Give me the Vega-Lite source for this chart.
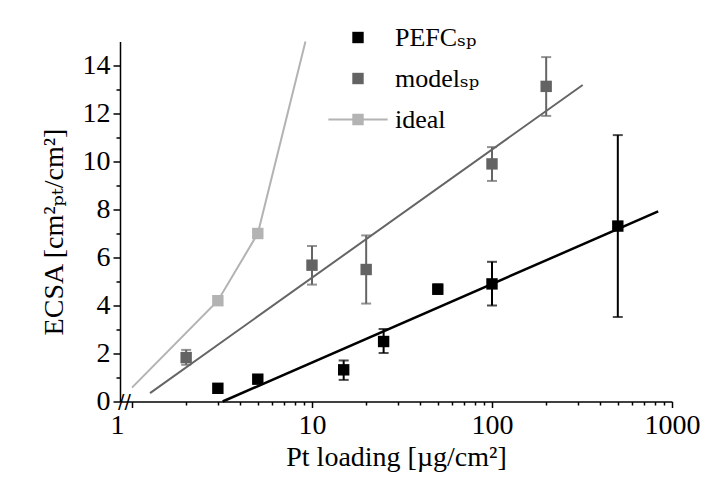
{
  "$schema": "https://vega.github.io/schema/vega-lite/v6.json",
  "width": 552,
  "height": 360,
  "autosize": {"type": "none"},
  "padding": {"left": 120, "top": 41.5, "right": 29, "bottom": 86.5},
  "background": "white",
  "config": {
    "view": {"stroke": null},
    "font": "Liberation Serif",
    "axis": {
      "grid": false,
      "domainColor": "black",
      "domainWidth": 1.5,
      "tickColor": "black",
      "tickWidth": 1.5,
      "labelFont": "Liberation Serif",
      "labelFontSize": 28,
      "labelColor": "black",
      "titleFont": "Liberation Serif, DejaVu Serif",
      "titleFontSize": 28,
      "titleFontWeight": "normal",
      "titleColor": "black",
      "labelOverlap": false,
      "labelBound": false,
      "labelFlush": false
    }
  },
  "resolve": {"axis": {"x": "independent", "y": "independent"}},
  "datasets": {
    "meas": [
      {"series": "PEFC", "x": 3, "y": 0.55, "lo": 0.43, "hi": 0.67},
      {"series": "PEFC", "x": 5, "y": 0.93, "lo": 0.8, "hi": 1.06},
      {"series": "PEFC", "x": 15, "y": 1.32, "lo": 0.9, "hi": 1.71},
      {"series": "PEFC", "x": 25, "y": 2.5, "lo": 2.02, "hi": 3.02},
      {"series": "PEFC", "x": 50, "y": 4.68, "lo": 4.48, "hi": 4.88},
      {"series": "PEFC", "x": 100, "y": 4.9, "lo": 4.0, "hi": 5.82},
      {"series": "PEFC", "x": 500, "y": 7.31, "lo": 3.52, "hi": 11.1},
      {"series": "model", "x": 2, "y": 1.83, "lo": 1.53, "hi": 2.15},
      {"series": "model", "x": 10, "y": 5.68, "lo": 4.87, "hi": 6.48},
      {"series": "model", "x": 20, "y": 5.5, "lo": 4.08, "hi": 6.92},
      {"series": "model", "x": 100, "y": 9.9, "lo": 9.19, "hi": 10.6},
      {"series": "model", "x": 200, "y": 13.13, "lo": 11.9, "hi": 14.35}
    ],
    "fits": [
      {"series": "PEFC", "x": 3.19, "y": 0},
      {"series": "PEFC", "x": 838, "y": 7.92},
      {"series": "model", "x": 1.26, "y": 0.35},
      {"series": "model", "x": 319, "y": 13.19}
    ],
    "idealCurve": [
      {"x": 1.0, "y": 0.58},
      {"x": 3, "y": 4.2},
      {"x": 5, "y": 7.0},
      {"x": 9.2, "y": 15}
    ],
    "idealPoints": [
      {"x": 3, "y": 4.2},
      {"x": 5, "y": 7.0}
    ],
    "breaks": [
      {"x": 0.908, "y": 0, "t": "//"}
    ]
  },
  "encoding": {
    "x": {
      "field": "x",
      "type": "quantitative",
      "scale": {"type": "log", "domain": [0.858, 1000], "nice": false},
      "axis": null
    },
    "y": {
      "field": "y",
      "type": "quantitative",
      "scale": {"domain": [0, 15], "nice": false, "zero": false},
      "axis": null
    }
  },
  "layer": [
    {
      "data": {"name": "idealCurve"},
      "mark": {"type": "line", "color": "#b3b3b3", "strokeWidth": 2},
      "encoding": {
        "x": {
          "field": "x",
          "type": "quantitative",
          "scale": {"type": "log", "domain": [0.858, 1000], "nice": false},
          "axis": {
            "orient": "bottom",
            "title": "Pt loading [µg/cm²]",
            "values": [1, 10, 100, 1000],
            "labelExpr": "format(datum.value, 'd')",
            "labelOffset": {"condition": {"test": "datum.value == 1", "value": -15}, "value": 0},
            "tickSize": 6,
            "labelPadding": 4,
            "titlePadding": 4
          }
        },
        "y": {
          "field": "y",
          "type": "quantitative",
          "scale": {"domain": [0, 15], "nice": false, "zero": false},
          "axis": {
            "orient": "left",
            "title": "ECSA [cm²ₚₜ/cm²]",
            "values": [0, 2, 4, 6, 8, 10, 12, 14],
            "tickSize": 7,
            "labelPadding": 3,
            "titlePadding": 14,
            "titleY": 190
          }
        }
      }
    },
    {
      "data": {"name": "fits"},
      "transform": [{"filter": "datum.series == 'model'"}],
      "mark": {"type": "line", "color": "#656565", "strokeWidth": 2},
      "encoding": {
        "x": {
          "field": "x",
          "type": "quantitative",
          "scale": {"type": "log", "domain": [0.858, 1000], "nice": false},
          "axis": {
            "orient": "bottom",
            "title": null,
            "values": [2, 3, 4, 5, 6, 7, 8, 9, 20, 30, 40, 50, 60, 70, 80, 90, 200, 300, 400, 500, 600, 700, 800, 900],
            "labels": false,
            "domain": false,
            "tickSize": 3.5
          }
        },
        "y": {
          "field": "y",
          "type": "quantitative",
          "scale": {"domain": [0, 15], "nice": false, "zero": false},
          "axis": {
            "orient": "left",
            "title": null,
            "values": [1, 3, 5, 7, 9, 11, 13],
            "labels": false,
            "domain": false,
            "tickSize": 4
          }
        }
      }
    },
    {
      "data": {"name": "fits"},
      "transform": [{"filter": "datum.series == 'PEFC'"}],
      "mark": {"type": "line", "color": "#000000", "strokeWidth": 2.5}
    },
    {
      "data": {"name": "meas"},
      "transform": [{"filter": "datum.series == 'model'"}],
      "mark": {"type": "errorbar", "ticks": true, "size": 10, "thickness": 2, "color": "#656565"},
      "encoding": {
        "y": {"field": "lo", "type": "quantitative", "axis": null, "scale": {"domain": [0, 15], "nice": false, "zero": false}},
        "y2": {"field": "hi"}
      }
    },
    {
      "data": {"name": "meas"},
      "transform": [{"filter": "datum.series == 'PEFC'"}],
      "mark": {"type": "errorbar", "ticks": true, "size": 10, "thickness": 2, "color": "#000000"},
      "encoding": {
        "y": {"field": "lo", "type": "quantitative", "axis": null, "scale": {"domain": [0, 15], "nice": false, "zero": false}},
        "y2": {"field": "hi"}
      }
    },
    {
      "data": {"name": "idealPoints"},
      "mark": {"type": "point", "shape": "square", "filled": true, "size": 130, "color": "#b3b3b3", "opacity": 1, "strokeWidth": 0}
    },
    {
      "data": {"name": "meas"},
      "mark": {"type": "point", "filled": true, "size": 130, "opacity": 1, "strokeWidth": 0},
      "encoding": {
        "color": {
          "field": "series",
          "type": "nominal",
          "scale": {"domain": ["PEFC", "model", "ideal"], "range": ["#000000", "#636363", "#b3b3b3"]},
          "legend": {
            "orient": "none", "legendX": 225, "legendY": -17, "title": null,
            "labelFont": "Liberation Serif, DejaVu Serif", "labelFontSize": 26, "labelColor": "black",
            "symbolSize": 130, "rowPadding": 15, "labelOffset": 24, "symbolStrokeWidth": 0, "symbolOpacity": 1,
            "labelExpr": "datum.label == 'PEFC' ? 'PEFCₛₚ' : datum.label == 'model' ? 'modelₛₚ' : 'ideal'"
          }
        },
        "shape": {
          "field": "series",
          "type": "nominal",
          "scale": {"domain": ["PEFC", "model", "ideal"], "range": ["square", "square", "M-5.2,-0.17H-1V-1H1V-0.17H5.2V0.17H1V1H-1V0.17H-5.2Z"]},
          "legend": {
            "orient": "none", "legendX": 225, "legendY": -17, "title": null,
            "labelFont": "Liberation Serif, DejaVu Serif", "labelFontSize": 26, "labelColor": "black",
            "symbolSize": 130, "rowPadding": 15, "labelOffset": 24, "symbolStrokeWidth": 0, "symbolOpacity": 1,
            "labelExpr": "datum.label == 'PEFC' ? 'PEFCₛₚ' : datum.label == 'model' ? 'modelₛₚ' : 'ideal'"
          }
        }
      }
    },
    {
      "data": {"name": "breaks"},
      "mark": {"type": "text", "font": "DejaVu Sans", "fontSize": 19, "color": "black", "align": "center", "baseline": "middle"},
      "encoding": {"text": {"field": "t"}}
    }
  ]
}
